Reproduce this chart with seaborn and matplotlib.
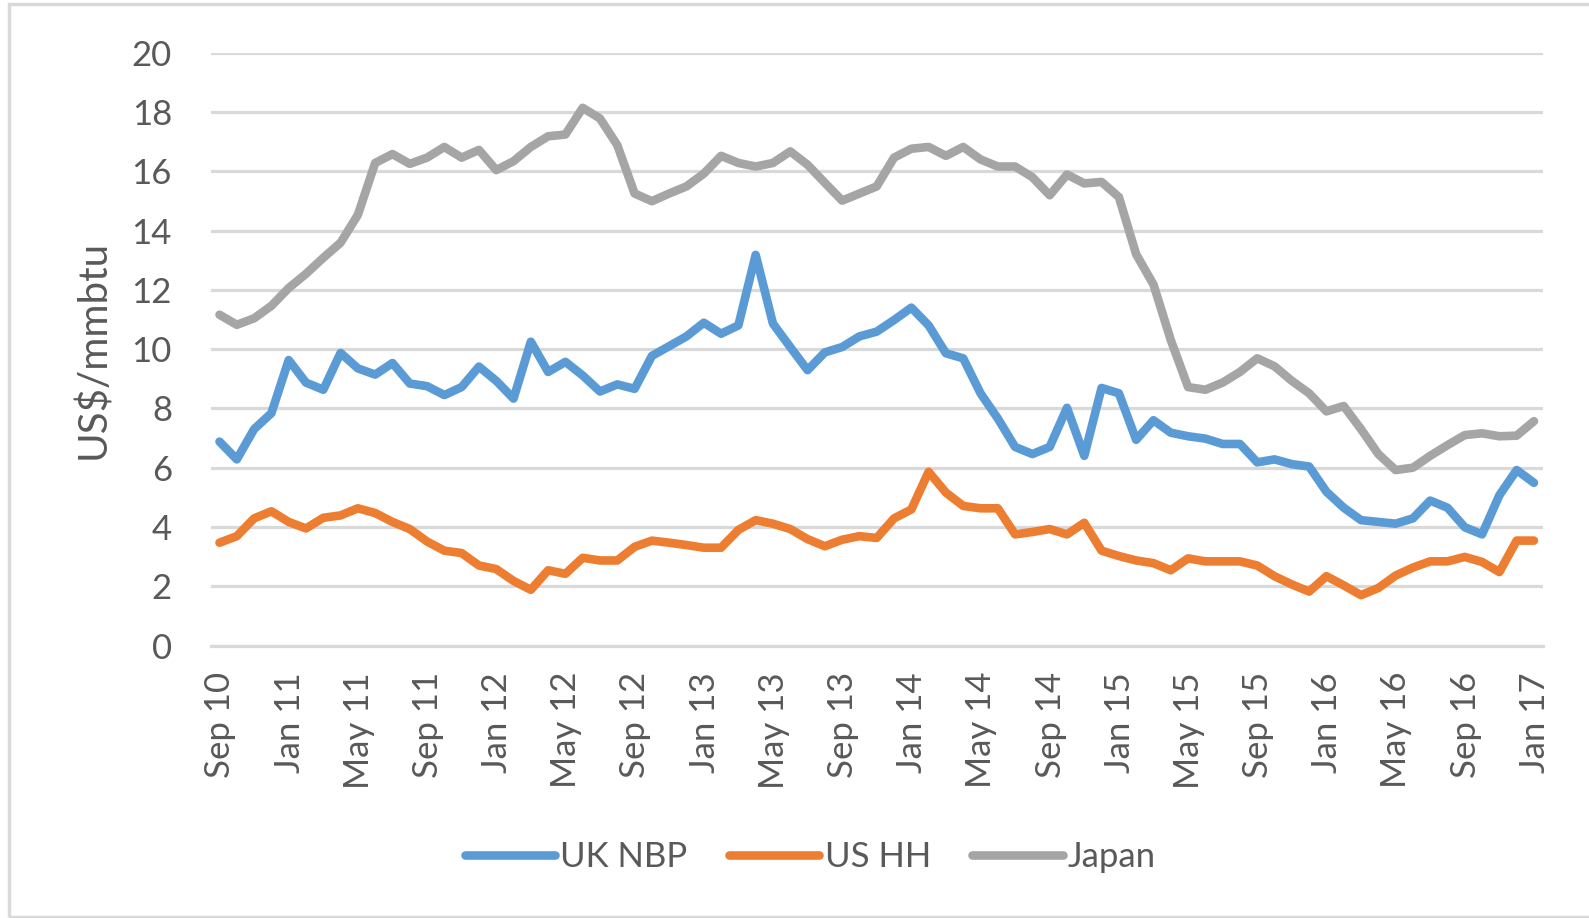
import numpy as np
import pandas as pd
import seaborn as sns
import matplotlib.pyplot as plt
from matplotlib.patches import Rectangle

# monthly prices Sep 2010 .. Jan 2017 (US$/mmbtu)
uk_nbp = [6.88, 6.28, 7.30, 7.84, 9.63, 8.87, 8.63, 9.87, 9.35, 9.14,
          9.53, 8.84, 8.75, 8.45, 8.72, 9.41, 8.93, 8.33, 10.25, 9.23,
          9.57, 9.11, 8.57, 8.81, 8.66, 9.77, 10.10, 10.43, 10.89, 10.52,
          10.80, 13.18, 10.86, 10.07, 9.29, 9.89, 10.07, 10.43, 10.59, 10.98,
          11.40, 10.80, 9.86, 9.69, 8.51, 7.66, 6.70, 6.46, 6.70, 8.02,
          6.40, 8.69, 8.51, 6.94, 7.60, 7.18, 7.06, 6.98, 6.80, 6.80,
          6.18, 6.28, 6.12, 6.04, 5.19, 4.65, 4.23, 4.17, 4.11, 4.29,
          4.89, 4.65, 3.99, 3.75, 5.07, 5.92, 5.49]
us_hh = [3.47, 3.69, 4.29, 4.53, 4.17, 3.95, 4.31, 4.39, 4.63, 4.47,
         4.17, 3.93, 3.51, 3.20, 3.12, 2.70, 2.58, 2.18, 1.88, 2.54,
         2.42, 2.96, 2.87, 2.87, 3.33, 3.54, 3.47, 3.39, 3.30, 3.30,
         3.90, 4.23, 4.11, 3.93, 3.59, 3.35, 3.57, 3.69, 3.63, 4.29,
         4.59, 5.86, 5.16, 4.71, 4.63, 4.63, 3.75, 3.83, 3.93, 3.75,
         4.14, 3.20, 3.02, 2.87, 2.78, 2.54, 2.94, 2.84, 2.84, 2.84,
         2.70, 2.34, 2.06, 1.82, 2.34, 2.03, 1.70, 1.94, 2.36, 2.63,
         2.84, 2.84, 2.99, 2.82, 2.48, 3.54, 3.54]
japan = [11.16, 10.82, 11.04, 11.46, 12.06, 12.54, 13.08, 13.59, 14.53, 16.28,
         16.58, 16.25, 16.46, 16.82, 16.46, 16.72, 16.04, 16.34, 16.82, 17.18,
         17.24, 18.14, 17.78, 16.88, 15.25, 14.99, 15.25, 15.49, 15.92, 16.52,
         16.28, 16.16, 16.28, 16.67, 16.22, 15.61, 15.01, 15.25, 15.49, 16.46,
         16.76, 16.82, 16.52, 16.82, 16.40, 16.16, 16.16, 15.80, 15.19, 15.89,
         15.59, 15.64, 15.13, 13.20, 12.18, 10.31, 8.72, 8.63, 8.87, 9.23,
         9.69, 9.42, 8.93, 8.51, 7.90, 8.08, 7.30, 6.46, 5.92, 6.00,
         6.40, 6.76, 7.10, 7.16, 7.06, 7.08, 7.57]
series_names = ['UK NBP', 'US HH', 'Japan']
colors = ['#5B9BD5', '#ED7D31', '#A5A5A5']
tick_labels = ['Sep 10', 'Jan 11', 'May 11', 'Sep 11', 'Jan 12', 'May 12', 'Sep 12',
               'Jan 13', 'May 13', 'Sep 13', 'Jan 14', 'May 14', 'Sep 14', 'Jan 15',
               'May 15', 'Sep 15', 'Jan 16', 'May 16', 'Sep 16', 'Jan 17']

months = np.arange(len(uk_nbp))
df = pd.DataFrame({'month': np.tile(months, 3),
                   'price': uk_nbp + us_hh + japan,
                   'series': np.repeat(series_names, len(months))})

sns.set_style('white')
plt.rcParams['font.family'] = ['Lato', 'DejaVu Sans']
txt = '#595959'
grid = '#D9D9D9'

fig = plt.figure(figsize=(15.89, 9.18), dpi=100)
ax = fig.add_axes([0.1327, 0.2968, 0.8381, 0.6458])

sns.lineplot(data=df, x='month', y='price', hue='series', hue_order=series_names,
             palette=colors, linewidth=6.2, ax=ax, legend=False,
             solid_capstyle='round', solid_joinstyle='round')

ax.set_xlim(-0.5, len(months) - 0.5)
ax.set_ylim(0, 20)
ax.set_yticks(range(0, 21, 2))
# tick marks at month starts, labels sit slightly to the right (as Excel does)
tick_pos = np.arange(-0.5, len(months) - 1, 4)
ax.set_xticks(tick_pos)
ax.set_xticklabels([])
ax.set_xticks(tick_pos + 0.55, minor=True)
ax.set_xticklabels(tick_labels, minor=True, rotation=90, va='top', ha='center')
ax.grid(axis='y', color=grid, linewidth=2.3)
ax.set_axisbelow(True)
for s in ['top', 'right', 'left']:
    ax.spines[s].set_visible(False)
ax.spines['bottom'].set_color(grid)
ax.spines['bottom'].set_linewidth(2.3)
ax.tick_params(axis='x', which='major', length=9, width=2.3, color=grid)
ax.tick_params(axis='x', which='minor', length=0, pad=19,
               labelsize=25, labelcolor=txt)
ax.tick_params(axis='y', length=0, pad=28, labelsize=25, labelcolor=txt)
ax.set_xlabel('')
ax.set_ylabel('US$/mmbtu', fontsize=29, color=txt, labelpad=14)

handles = [plt.Line2D([], [], color=c, linewidth=6.2, solid_capstyle='round')
           for c in colors]
fig.legend(handles, series_names, loc='center', bbox_to_anchor=(0.51, 0.066),
           ncol=3, frameon=False, fontsize=25, labelcolor=txt,
           handlelength=2.6, handletextpad=0.15, columnspacing=1.2)

fig.patches.append(Rectangle((9 / 1589, 1 / 918), 1.0, 913 / 918,
                             transform=fig.transFigure, fill=False,
                             edgecolor=grid, linewidth=2.5))

fig.savefig('out.png', dpi=100)
